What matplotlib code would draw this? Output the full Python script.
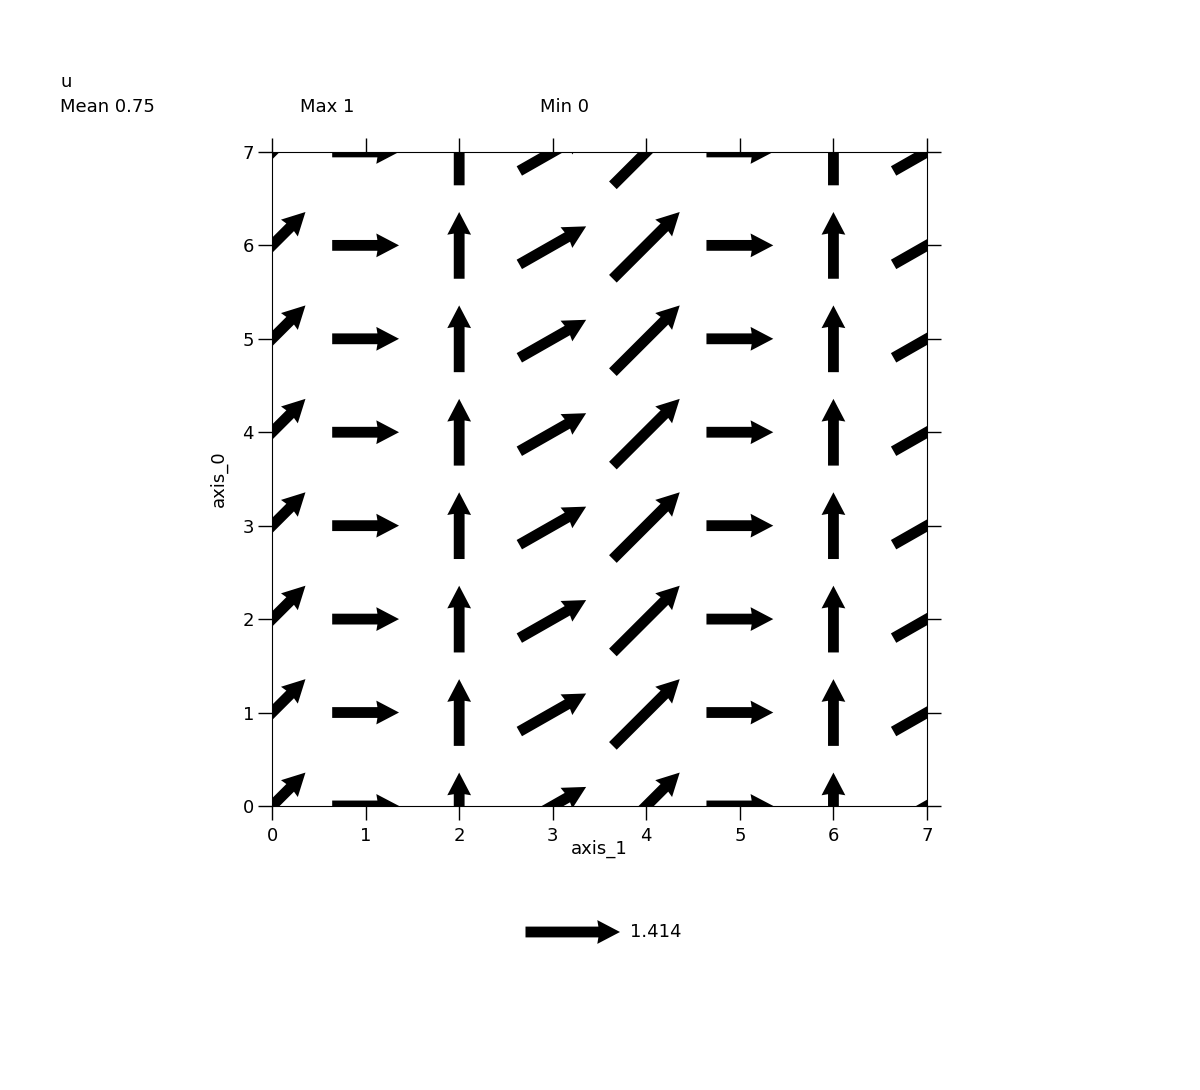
import numpy as np
import matplotlib
matplotlib.use('Agg')
from matplotlib import pyplot as plt

# grid positions
axis_1 = [0, 1, 2, 3, 4, 5, 6, 7]
axis_0 = [0, 1, 2, 3, 4, 5, 6, 7]

# vector components per column (same in every row)
u_col = [1, 1, 0, 1, 1, 1, 0, 1]
v_col = [1, 0, 1, 0.57, 1, 0, 1, 0.57]

X, Y = np.meshgrid(axis_1, axis_0)
U = np.tile(u_col, (len(axis_0), 1))
V = np.tile(v_col, (len(axis_0), 1))

plt.rcParams['font.family'] = ['DejaVu Sans']

fig = plt.figure(figsize=(12, 10.9), dpi=100)
ax = fig.add_axes([0.2267, 0.2606, 0.5458, 0.6])

q = ax.quiver(X, Y, U, V, pivot='middle', angles='xy', scale_units='xy', scale=1.4,
              width=0.0165, headwidth=2.2, headlength=2.1, headaxislength=2.0,
              color='black')

ax.set_xlim(0, 7)
ax.set_ylim(0, 7)
ax.set_xticks(axis_1)
ax.set_yticks(axis_0)
ax.tick_params(direction='out', length=10, width=1, labelsize=13, pad=3,
               top=True, right=True, labeltop=False, labelright=False)
ax.tick_params(axis='x', pad=5)

ax.set_xlabel('axis_1', fontsize=13)
ax.set_ylabel('axis_0', fontsize=13)
ax.xaxis.set_label_coords(0.5, -0.052)
ax.yaxis.set_label_coords(-0.067, 0.5)

# stats header
fig.text(0.05, 1 - 82 / 1090, 'u', fontsize=13, va='center')
fig.text(0.05, 1 - 107 / 1090, 'Mean 0.75', fontsize=13, va='center')
fig.text(0.25, 1 - 107 / 1090, 'Max 1', fontsize=13, va='center')
fig.text(0.45, 1 - 107 / 1090, 'Min 0', fontsize=13, va='center')

ax.quiverkey(q, 620 / 1200, 1 - 932 / 1090, 1.414, '1.414', labelpos='E',
             coordinates='figure', fontproperties={'size': 13})

fig.savefig('out.png', dpi=100)
